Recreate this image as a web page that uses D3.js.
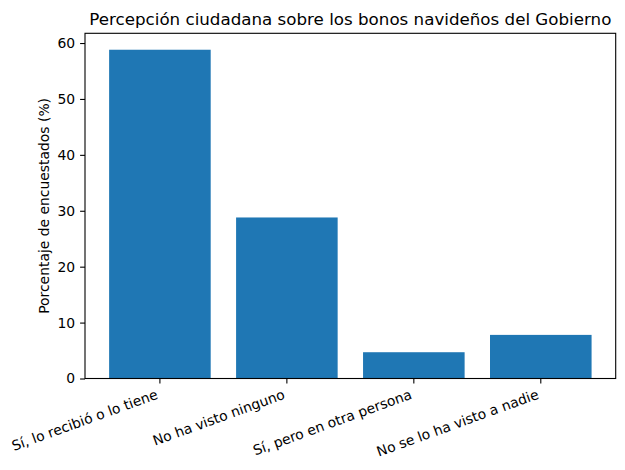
<!DOCTYPE html>
<html>
<head>
<meta charset="utf-8">
<script src="https://cdn.jsdelivr.net/npm/d3@7"></script>
<style>
    body { margin: 0; background: white; }
    svg { display: block; font-family: 'DejaVu Sans', sans-serif; }
</style>
</head>
<body>
<div id="chart"></div>
<script>
// Données du sondage
const categories = ['Sí, lo recibió o lo tiene', 'No ha visto ninguno', 'Sí, pero en otra persona', 'No se lo ha visto a nadie'];
const percentages = [58.8, 28.8, 4.7, 7.8];
const yTicks = [0, 10, 20, 30, 40, 50, 60];

const chartTitle = 'Percepción ciudadana sobre los bonos navideños del Gobierno';
const yLabel = 'Porcentaje de encuestados (%)';

class BarChartDrawing {

    constructor() {
        this.size = { windowWidth: 625, windowHeight: 470 };
        this.box = { left: 85, right: 615.7, top: 33.3, bottom: 378.5 };
        this.tickLen = 4.9;
        this.tickPad = 4.9;
    }

    createScale() {
        const xAndYScale = {};
        // bandes comme matplotlib: largeur 0.8, marge 5%
        xAndYScale['xScale'] = d3.scaleBand()
            .domain(categories)
            .range([this.box.left, this.box.right])
            .paddingInner(0.2)
            .paddingOuter(0.19);
        const yMax = d3.max(percentages) * 1.05;
        xAndYScale['yScale'] = d3.scaleLinear()
            .domain([0, yMax])
            .range([this.box.bottom, this.box.top]);
        return xAndYScale;
    }

    createSvg(element) {
        return d3.select(element)
            .append('svg')
            .attr('width', this.size.windowWidth)
            .attr('height', this.size.windowHeight)
            .style('background-color', 'white');
    }

    createRectElement(svg, xAndYScale) {
        const x = xAndYScale['xScale'];
        const y = xAndYScale['yScale'];
        svg.append('g').selectAll('rect')
            .data(percentages)
            .enter()
            .append('rect')
            .attr('x', (d, i) => x(categories[i]))
            .attr('y', d => y(d))
            .attr('width', x.bandwidth())
            .attr('height', d => y(0) - y(d))
            .style('fill', '#1f77b4');
    }

    createAxis(svg, xAndYScale) {
        const x = xAndYScale['xScale'];
        const y = xAndYScale['yScale'];
        const b = this.box;

        // axe y
        const yAxis = d3.axisLeft(y)
            .tickValues(yTicks)
            .tickSize(this.tickLen)
            .tickPadding(this.tickPad)
            .tickFormat(d3.format('d'));
        const gy = svg.append('g')
            .attr('transform', 'translate(' + b.left + ',0)')
            .call(yAxis);
        gy.select('.domain').remove();
        gy.selectAll('line').attr('stroke', 'black').attr('stroke-width', 1.1);
        gy.selectAll('text')
            .attr('font-size', '13.9px')
            .attr('fill', 'black')
            .attr('font-family', 'DejaVu Sans, sans-serif');

        // axe x avec labels tournés de 20 degrés
        const xAxis = d3.axisBottom(x)
            .tickSize(this.tickLen)
            .tickFormat('');
        const gx = svg.append('g')
            .attr('transform', 'translate(0,' + b.bottom + ')')
            .call(xAxis);
        gx.select('.domain').remove();
        gx.selectAll('line').attr('stroke', 'black').attr('stroke-width', 1.1);

        const fs = 13.9;
        const ascent = 0.76 * fs;
        const descent = 0.23 * fs;
        const top = this.tickLen + this.tickPad;
        svg.append('g').selectAll('text.xlabel')
            .data(categories)
            .enter()
            .append('text')
            .attr('class', 'xlabel')
            .attr('text-anchor', 'end')
            .attr('font-size', fs + 'px')
            .attr('fill', 'black')
            .attr('transform', d => {
                const tx = x(d) + x.bandwidth() / 2 - 0.342 * descent;
                const ty = b.bottom + top + 0.94 * ascent;
                return 'translate(' + tx + ',' + ty + ') rotate(-20)';
            })
            .text(d => d);

        // cadre
        svg.append('rect')
            .attr('x', b.left)
            .attr('y', b.top)
            .attr('width', b.right - b.left)
            .attr('height', b.bottom - b.top)
            .attr('fill', 'none')
            .attr('stroke', 'black')
            .attr('stroke-width', 1.1);
    }

    createTexts(svg) {
        const b = this.box;
        svg.append('text')
            .attr('x', (b.left + b.right) / 2)
            .attr('y', b.top - 8.3)
            .attr('text-anchor', 'middle')
            .attr('font-size', '16.7px')
            .attr('fill', 'black')
            .text(chartTitle);

        svg.append('text')
            .attr('transform', 'translate(49,' + (b.top + b.bottom) / 2 + ') rotate(-90)')
            .attr('text-anchor', 'middle')
            .attr('font-size', '13.9px')
            .attr('fill', 'black')
            .text(yLabel);
    }
}

function drawBarChart(element) {
    const drawing = new BarChartDrawing();
    const xAndYScale = drawing.createScale();
    const svg = drawing.createSvg(element);
    drawing.createRectElement(svg, xAndYScale);
    drawing.createAxis(svg, xAndYScale);
    drawing.createTexts(svg);
}

drawBarChart(document.getElementById('chart'));
</script>
</body>
</html>
